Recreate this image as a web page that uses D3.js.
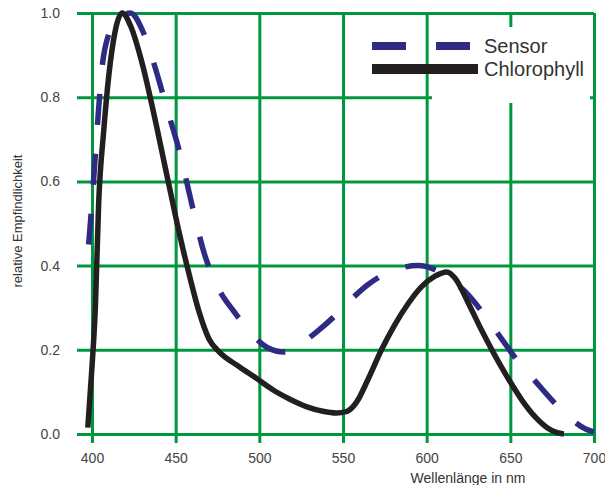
<!DOCTYPE html>
<html>
<head>
<meta charset="utf-8">
<script src="https://cdn.jsdelivr.net/npm/d3@7"></script>
<style>
  body { margin: 0; background: #fff; }
  text { font-family: "Liberation Sans", Arial, sans-serif; fill: #444; }
</style>
</head>
<body>
<div id="chart"></div>
<script>
// wavelength (nm) / relative sensitivity
var sensorNm  = [398, 400, 403, 406, 410, 415, 423, 430, 437, 445, 453, 460, 467, 475, 485, 495, 505, 515, 525, 535, 545, 555, 565, 575, 585, 595, 605, 615, 625, 635, 645, 655, 665, 675, 685, 695, 700];
var sensorVal = [0.45, 0.55, 0.72, 0.87, 0.95, 0.985, 1.0, 0.96, 0.88, 0.77, 0.66, 0.54, 0.43, 0.35, 0.29, 0.24, 0.205, 0.195, 0.215, 0.245, 0.28, 0.32, 0.355, 0.38, 0.395, 0.40, 0.39, 0.365, 0.33, 0.28, 0.225, 0.17, 0.125, 0.08, 0.04, 0.012, 0.005];

var chloroNm  = [397.5, 400, 402, 404, 407, 410, 414, 418, 423, 430, 437, 445, 452, 458, 464, 470, 476, 488, 498, 508, 518, 528, 538, 546, 552, 558, 565, 573, 581, 589, 597, 605, 612, 617, 625, 633, 641, 649, 657, 665, 672, 678, 682];
var chloroVal = [0.015, 0.16, 0.3, 0.55, 0.72, 0.85, 0.96, 1.0, 0.97, 0.88, 0.76, 0.61, 0.48, 0.38, 0.29, 0.225, 0.195, 0.16, 0.133, 0.105, 0.083, 0.065, 0.054, 0.05, 0.053, 0.075, 0.13, 0.2, 0.26, 0.31, 0.35, 0.375, 0.385, 0.37, 0.31, 0.245, 0.185, 0.13, 0.08, 0.04, 0.015, 0.003, 0];

var xTicks = [400, 450, 500, 550, 600, 650, 700];
var yTicks = [0, 0.2, 0.4, 0.6, 0.8, 1.0];
var legendNames = ["Sensor", "Chlorophyll"];

var width = 605, height = 485;
var green = "#00983f";

var svg = d3.select("#chart").append("svg")
    .attr("width", width)
    .attr("height", height);

var x = d3.scaleLinear().domain([400, 700]).range([92, 594]);
var y = d3.scaleLinear().domain([0, 1]).range([434, 13]);

// grid + labels via axes (ticks stick out left and bottom a bit)
var xAxis = svg.append("g")
    .attr("transform", "translate(0,443)")
    .call(d3.axisBottom(x).tickValues(xTicks).tickSize(-430).tickPadding(10).tickFormat(d3.format("d")));

var yAxis = svg.append("g")
    .attr("transform", "translate(77,0)")
    .call(d3.axisLeft(y).tickValues(yTicks).tickSize(-517).tickPadding(17).tickFormat(d3.format(".1f")));

[xAxis, yAxis].forEach(function(a) {
    a.select(".domain").remove();
    a.selectAll(".tick line").attr("stroke", green).attr("stroke-width", 3);
    a.selectAll(".tick text").style("font-size", "14px").style("fill", "#444");
});

var line = d3.line().curve(d3.curveMonotoneX);

var sensor = sensorNm.map(function(d, i) { return [x(d), y(sensorVal[i])]; });
var chloro = chloroNm.map(function(d, i) { return [x(d), y(chloroVal[i])]; });

svg.append("path")
    .attr("d", line(sensor))
    .attr("fill", "none")
    .attr("stroke", "#2e2b84")
    .attr("stroke-width", 5.5)
    .attr("stroke-dasharray", "31,29");

svg.append("path")
    .attr("d", line(chloro))
    .attr("fill", "none")
    .attr("stroke", "#231f20")
    .attr("stroke-width", 5.5);

// legend
svg.append("rect")
    .attr("x", 432).attr("y", 27)
    .attr("width", 158).attr("height", 76)
    .attr("fill", "#fff");

svg.append("line")
    .attr("x1", 372).attr("x2", 471).attr("y1", 46).attr("y2", 46)
    .attr("stroke", "#2e2b84").attr("stroke-width", 8)
    .attr("stroke-dasharray", "34,30");

svg.append("line")
    .attr("x1", 372).attr("x2", 478).attr("y1", 69).attr("y2", 69)
    .attr("stroke", "#231f20").attr("stroke-width", 10);

svg.selectAll(".leg")
    .data(legendNames)
    .join("text")
    .attr("class", "leg")
    .attr("x", 484)
    .attr("y", function(d, i) { return 46 + i * 23; })
    .attr("dy", "0.36em")
    .style("font-size", "20px")
    .style("fill", "#333")
    .text(function(d) { return d; });

// axis titles
svg.append("text")
    .attr("x", 468).attr("y", 483)
    .attr("text-anchor", "middle")
    .style("font-size", "14px")
    .style("fill", "#333")
    .text("Wellenlänge in nm");

svg.append("text")
    .attr("transform", "translate(22,221) rotate(-90)")
    .attr("text-anchor", "middle")
    .style("font-size", "13px")
    .style("fill", "#333")
    .text("relative Empfindlichkeit");
</script>
</body>
</html>
